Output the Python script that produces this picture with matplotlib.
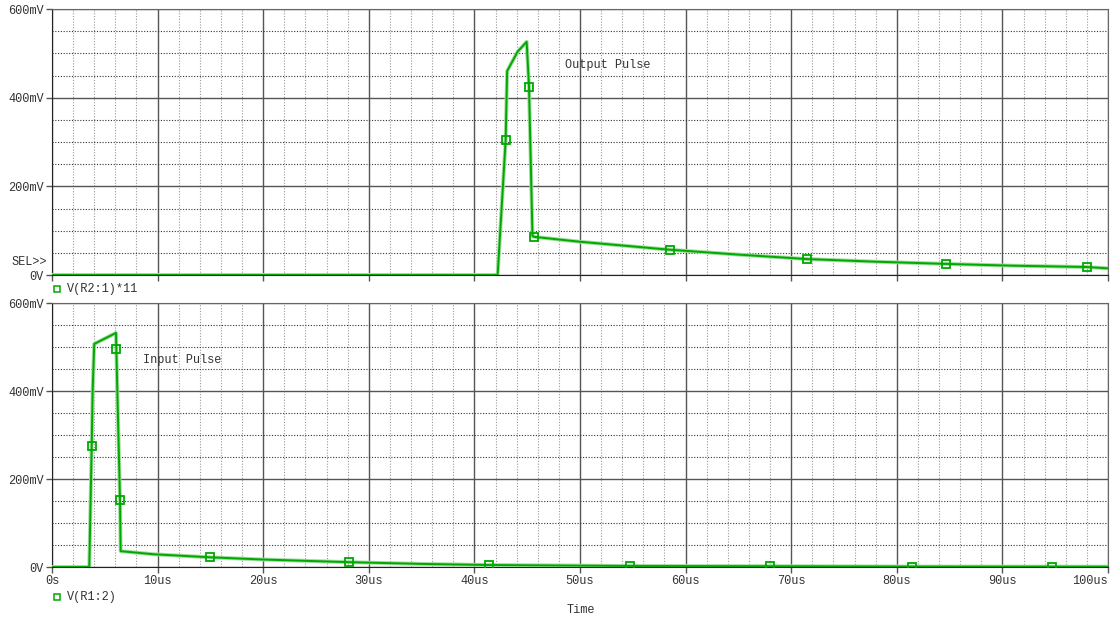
import matplotlib
matplotlib.use("Agg")
import matplotlib.pyplot as plt
from matplotlib.lines import Line2D
from matplotlib.ticker import MultipleLocator

# Transient results (time in us, voltage in mV)
out_t = [0, 42.2, 42.96, 43.1, 44.1, 44.95, 45.17, 45.5, 45.67, 50, 58.5, 65, 71.5, 78, 84.7, 91, 98, 100]
out_v = [0, 0, 304, 460, 504, 526, 425, 88, 86, 75, 57, 46, 36, 30, 25, 21, 18, 15]
out_marks = [2, 6, 8, 10, 12, 14, 16]

in_t = [0, 3.53, 3.76, 3.85, 4.0, 6.06, 6.09, 6.44, 6.5, 9.6, 15.0, 20, 28.1, 35, 41.4, 54.7, 68.0, 81.4, 94.7, 100]
in_v = [0, 0, 275, 402, 507, 532, 496, 152, 36, 29, 22, 17, 11, 7, 4.5, 2.3, 1.8, 1.0, 0.8, 0.7]
in_marks = [2, 6, 7, 10, 12, 14, 15, 16, 17, 18]

y_ticks = [0, 200, 400, 600]
y_labels = ["0V", "200mV", "400mV", "600mV"]
x_ticks = list(range(0, 101, 10))
x_labels = ["0s"] + [f"{t}us" for t in x_ticks[1:]]

GREEN = "#00a800"
HALO = "#9fdc9f"
FS = 8.6

plt.rcParams["font.family"] = ["Liberation Mono", "DejaVu Sans Mono"]

fig = plt.figure(figsize=(11.13, 6.20), dpi=100)
ax_top = fig.add_axes([52 / 1113, 1 - 275 / 620, 1056 / 1113, 266 / 620])
ax_bot = fig.add_axes([52 / 1113, 1 - 567 / 620, 1056 / 1113, 264 / 620])


def style_axes(ax, show_x):
    ax.set_xlim(0, 100)
    ax.set_ylim(0, 600)
    ax.set_xticks(x_ticks)
    ax.set_yticks(y_ticks)
    ax.set_yticklabels(y_labels)
    ax.xaxis.set_minor_locator(MultipleLocator(2))
    ax.yaxis.set_minor_locator(MultipleLocator(50))
    ax.grid(which="major", color="#555555", linewidth=1.0, linestyle="-")
    ax.grid(which="minor", axis="y", color="#333333", linewidth=0.8, linestyle=(0, (1, 1.5)))
    ax.grid(which="minor", axis="x", color="#999999", linewidth=0.8, linestyle=(0, (1, 1.5)))
    ax.set_axisbelow(True)
    ax.tick_params(which="major", length=4, width=1, color="#555555",
                   labelsize=FS, labelcolor="#333333", pad=2)
    ax.tick_params(which="minor", length=0)
    if show_x:
        labels = ax.set_xticklabels(x_labels)
        labels[-1].set_horizontalalignment("right")
    else:
        ax.tick_params(axis="x", labelbottom=False)
    for side in ("left", "bottom"):
        ax.spines[side].set_color("#222222")
    for side in ("top", "right"):
        ax.spines[side].set_color("#666666")


def draw_trace(ax, t, v, marks):
    ax.plot(t, v, color=HALO, linewidth=2.8, solid_joinstyle="round", zorder=3)
    ax.plot(t, v, color=GREEN, linewidth=1.4, zorder=4)
    ax.plot([t[i] for i in marks], [v[i] for i in marks], linestyle="none",
            marker="s", markersize=5.5, markerfacecolor="none",
            markeredgecolor=GREEN, markeredgewidth=1.3, zorder=5)


style_axes(ax_top, False)
style_axes(ax_bot, True)

draw_trace(ax_top, out_t, out_v, out_marks)
draw_trace(ax_bot, in_t, in_v, in_marks)

ax_top.text(48.6, 474, "Output Pulse", fontsize=FS, color="#333333", va="center")
ax_bot.text(8.6, 470, "Input Pulse", fontsize=FS, color="#333333", va="center")

fig.text(47 / 1113, 1 - 262 / 620, "SEL>>", fontsize=FS, color="#333333",
         ha="right", va="center")


def legend_entry(x_px, y_px, label):
    fig.add_artist(Line2D([x_px / 1113], [1 - y_px / 620], transform=fig.transFigure,
                          marker="s", markersize=5, markerfacecolor="none",
                          markeredgecolor=GREEN, markeredgewidth=1.1, linestyle="none"))
    fig.text((x_px + 10) / 1113, 1 - y_px / 620, label, fontsize=FS,
             color="#333333", va="center")


legend_entry(57, 289, "V(R2:1)*11")
legend_entry(57, 597, "V(R1:2)")

fig.text(581 / 1113, 1 - 610 / 620, "Time", fontsize=FS, color="#333333",
         ha="center", va="center")

fig.savefig("out.png", dpi=100)
